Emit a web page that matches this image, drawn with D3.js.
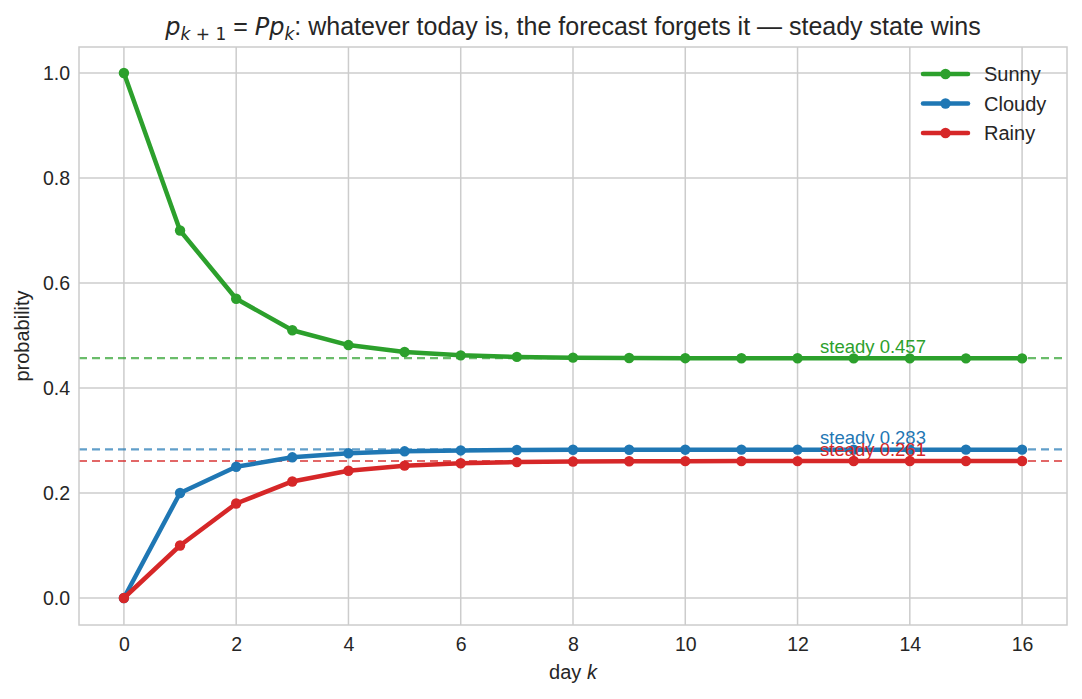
<!DOCTYPE html>
<html>
<head>
<meta charset="utf-8">
<script src="https://cdn.jsdelivr.net/npm/d3@7"></script>
<style>
  html, body { margin: 0; padding: 0; background: #fff; }
  svg { display: block; font-family: "Liberation Sans", Arial, sans-serif; }
</style>
</head>
<body>
<div id="chart"></div>
<script>
// Weather Markov chain: probability of each state per day, from a sunny start.

const days = [0, 1, 2, 3, 4, 5, 6, 7, 8, 9, 10, 11, 12, 13, 14, 15, 16];

const sunny  = [1.0, 0.70, 0.57, 0.510, 0.4818, 0.4685, 0.4622, 0.4592, 0.4578, 0.4571,
                0.4568, 0.4566, 0.4566, 0.4565, 0.4565, 0.4565, 0.4565];
const cloudy = [0.0, 0.20, 0.25, 0.268, 0.2758, 0.2794, 0.2811, 0.2819, 0.2823, 0.2824,
                0.2825, 0.2826, 0.2826, 0.2826, 0.2826, 0.2826, 0.2826];
const rainy  = [0.0, 0.10, 0.18, 0.222, 0.2424, 0.2521, 0.2567, 0.2589, 0.2599, 0.2604,
                0.2607, 0.2608, 0.2608, 0.2609, 0.2609, 0.2609, 0.2609];

const seriesNames  = ["Sunny", "Cloudy", "Rainy"];
const seriesValues = [sunny, cloudy, rainy];
const steadyValues = [0.457, 0.283, 0.261];

const xTicks = [0, 2, 4, 6, 8, 10, 12, 14, 16];
const yTicks = [0.0, 0.2, 0.4, 0.6, 0.8, 1.0];

const COLORS = ["#2ca02c", "#1f77b4", "#d62728"];
const TEXT   = "#262626";
const GRID   = "#cccccc";
const FONT   = "Liberation Sans, Arial, sans-serif";

const W = 1082, H = 699;
const m = { top: 47, right: 15, bottom: 74, left: 79 };
const iw = W - m.left - m.right;
const ih = H - m.top - m.bottom;

const svg = d3.select("#chart").append("svg")
  .attr("width", W)
  .attr("height", H);

const g = svg.append("g")
  .attr("transform", `translate(${m.left},${m.top})`);

const x = d3.scaleLinear().domain([-0.8, 16.8]).range([0, iw]);
const y = d3.scaleLinear().domain([-0.0514, 1.0495]).range([ih, 0]);

// grid
g.selectAll(".grid-v")
  .data(xTicks)
  .join("line")
    .attr("x1", d => x(d)).attr("x2", d => x(d))
    .attr("y1", 0).attr("y2", ih)
    .attr("stroke", GRID).attr("stroke-width", 1.5);

g.selectAll(".grid-h")
  .data(yTicks)
  .join("line")
    .attr("x1", 0).attr("x2", iw)
    .attr("y1", d => y(d)).attr("y2", d => y(d))
    .attr("stroke", GRID).attr("stroke-width", 1.5);

// axes (no tick marks, whitegrid look)
const xAxisG = g.append("g")
  .attr("transform", `translate(0,${ih})`)
  .call(d3.axisBottom(x).tickValues(xTicks).tickSize(0).tickPadding(12).tickFormat(d3.format("d")));
xAxisG.select(".domain").remove();
xAxisG.selectAll("text")
  .attr("fill", TEXT).attr("font-size", "19.5px")
  .attr("font-family", FONT);

const yAxisG = g.append("g")
  .call(d3.axisLeft(y).tickValues(yTicks).tickSize(0).tickPadding(9).tickFormat(d3.format(".1f")));
yAxisG.select(".domain").remove();
yAxisG.selectAll("text")
  .attr("fill", TEXT).attr("font-size", "19.5px")
  .attr("font-family", FONT);

// steady-state dashed lines
steadyValues.forEach((s, i) => {
  g.append("line")
    .attr("x1", 0).attr("x2", iw)
    .attr("y1", y(s)).attr("y2", y(s))
    .attr("stroke", COLORS[i])
    .attr("stroke-width", 2.2)
    .attr("stroke-dasharray", "8,5")
    .attr("opacity", 0.7);
});

// series lines + markers
const lineFn = d3.line()
  .x((d, i) => x(days[i]))
  .y(d => y(d));

seriesValues.forEach((vals, i) => {
  g.append("path")
    .datum(vals)
    .attr("d", lineFn)
    .attr("fill", "none")
    .attr("stroke", COLORS[i])
    .attr("stroke-width", 4.5)
    .attr("stroke-linejoin", "round")
    .attr("stroke-linecap", "round");

  g.selectAll(`.dot-${i}`)
    .data(vals)
    .join("circle")
      .attr("cx", (d, j) => x(days[j]))
      .attr("cy", d => y(d))
      .attr("r", 5.2)
      .attr("fill", COLORS[i]);
});

// steady labels
steadyValues.forEach((s, i) => {
  g.append("text")
    .attr("x", x(12.4))
    .attr("y", y(s + 0.01))
    .attr("fill", COLORS[i])
    .attr("font-size", "18.5px")
    .text(`steady ${s.toFixed(3)}`);
});

// frame
g.append("rect")
  .attr("x", 0).attr("y", 0)
  .attr("width", iw).attr("height", ih)
  .attr("fill", "none")
  .attr("stroke", GRID)
  .attr("stroke-width", 1.5);

// legend
const legend = g.append("g")
  .attr("transform", `translate(${iw - 144},27)`);

seriesNames.forEach((name, i) => {
  const row = legend.append("g").attr("transform", `translate(0,${i * 29.5})`);
  row.append("line")
    .attr("x1", 0).attr("x2", 45)
    .attr("y1", 0).attr("y2", 0)
    .attr("stroke", COLORS[i]).attr("stroke-width", 4.5)
    .attr("stroke-linecap", "round");
  row.append("circle")
    .attr("cx", 22.5).attr("cy", 0).attr("r", 5.2)
    .attr("fill", COLORS[i]);
  row.append("text")
    .attr("x", 61).attr("y", 7)
    .attr("fill", TEXT)
    .attr("font-size", "20px")
    .text(name);
});

// axis labels
svg.append("text")
  .attr("x", m.left + x(8))
  .attr("y", 679)
  .attr("text-anchor", "middle")
  .attr("fill", TEXT)
  .attr("font-size", "20px")
  .html('day <tspan font-style="italic">k</tspan>');

svg.append("text")
  .attr("transform", "rotate(-90)")
  .attr("x", -(m.top + ih / 2))
  .attr("y", 29)
  .attr("text-anchor", "middle")
  .attr("fill", TEXT)
  .attr("font-size", "20px")
  .text("probability");

// title with math
const title = svg.append("text")
  .attr("x", 573)
  .attr("y", 35)
  .attr("text-anchor", "middle")
  .attr("fill", TEXT)
  .attr("font-size", "25px");

title.append("tspan").attr("font-style", "italic").attr("font-family", "DejaVu Sans").attr("font-size", "24px").text("p");
title.append("tspan").attr("font-style", "italic").attr("font-family", "DejaVu Sans").attr("font-size", "17px").attr("dy", 5).text("k");
title.append("tspan").attr("font-family", "DejaVu Sans").attr("font-size", "17px").text(" + 1");
title.append("tspan").attr("dy", -5).text(" = ");
title.append("tspan").attr("font-style", "italic").attr("font-family", "DejaVu Sans").attr("font-size", "24px").text("Pp");
title.append("tspan").attr("font-style", "italic").attr("font-family", "DejaVu Sans").attr("font-size", "17px").attr("dy", 5).text("k");
title.append("tspan").attr("dy", -5).text(": whatever today is, the forecast forgets it — steady state wins");
</script>
</body>
</html>
